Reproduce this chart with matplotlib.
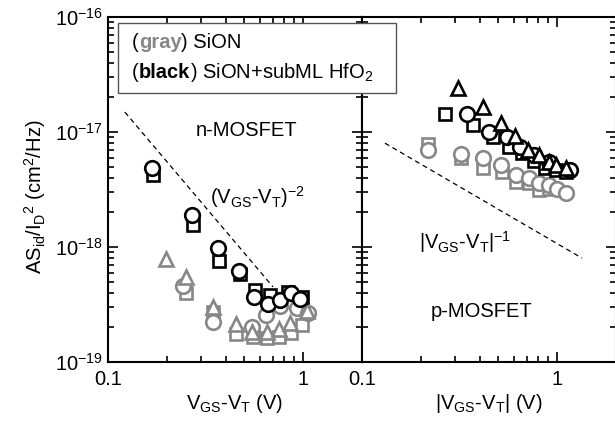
import matplotlib
matplotlib.use("Agg")
import matplotlib.pyplot as plt
from matplotlib.ticker import NullFormatter, FixedLocator, FixedFormatter
from matplotlib.patches import Rectangle

plt.rcParams["font.family"] = ["Liberation Sans", "DejaVu Sans"]
plt.rcParams["mathtext.fontset"] = "custom"
plt.rcParams["mathtext.rm"] = "Liberation Sans"
plt.rcParams["mathtext.it"] = "Liberation Sans"
plt.rcParams["mathtext.bf"] = "Liberation Sans:bold"
plt.rcParams["mathtext.default"] = "regular"

GRAY = "#878787"
BLACK = "#000000"
FS = 14.5

# ---------------- n-MOSFET (left panel) ----------------
# black: SiON + subML HfO2
n_blk_circ_x = [0.168, 0.270, 0.367, 0.470, 0.561, 0.661, 0.762, 0.868, 0.965]
n_blk_circ_y = [4.86e-18, 1.90e-18, 9.8e-19, 6.18e-19, 3.68e-19, 3.19e-19, 3.46e-19, 3.98e-19, 3.53e-19]
n_blk_sq_x = [0.170, 0.273, 0.371, 0.475, 0.567, 0.677, 0.838, 0.988]
n_blk_sq_y = [4.23e-18, 1.55e-18, 7.55e-19, 5.82e-19, 4.23e-19, 3.83e-19, 4.06e-19, 3.68e-19]
# gray: SiON
n_gry_tri_x = [0.198, 0.251, 0.345, 0.453, 0.548, 0.654, 0.753, 0.858, 1.048]
n_gry_tri_y = [7.86e-19, 5.48e-19, 3.01e-19, 2.14e-19, 1.82e-19, 1.82e-19, 1.94e-19, 2.18e-19, 2.78e-19]
n_gry_sq_x = [0.251, 0.345, 0.453, 0.554, 0.654, 0.753, 0.868, 0.988]
n_gry_sq_y = [3.98e-19, 2.72e-19, 1.75e-19, 1.65e-19, 1.62e-19, 1.65e-19, 1.79e-19, 2.10e-19]
n_gry_circ_x = [0.242, 0.345, 0.548, 0.646, 0.762, 0.932, 1.061]
n_gry_circ_y = [4.58e-19, 2.23e-19, 2.01e-19, 2.56e-19, 3.07e-19, 2.95e-19, 2.67e-19]
# guide line ~ (VGS-VT)^-2
n_guide_x = [0.122, 0.70]
n_guide_y = [1.49e-17, 4.5e-19]

# ---------------- p-MOSFET (right panel) ----------------
p_blk_tri_x = [0.311, 0.415, 0.513, 0.609, 0.706, 0.804, 0.91, 0.99, 1.11]
p_blk_tri_y = [2.41e-17, 1.65e-17, 1.20e-17, 9.2e-18, 7.0e-18, 6.3e-18, 5.48e-18, 5.16e-18, 4.86e-18]
p_blk_sq_x = [0.265, 0.369, 0.470, 0.565, 0.661, 0.763, 0.863, 0.99, 1.11]
p_blk_sq_y = [1.43e-17, 1.15e-17, 9.05e-18, 7.41e-18, 6.57e-18, 5.6e-18, 4.86e-18, 4.67e-18, 4.49e-18]
p_blk_circ_x = [0.346, 0.448, 0.551, 0.646, 0.763, 0.91, 1.166]
p_blk_circ_y = [1.43e-17, 1.0e-17, 9.05e-18, 7.41e-18, 6.31e-18, 5.48e-18, 4.67e-18]
p_gry_circ_x = [0.218, 0.322, 0.415, 0.513, 0.616, 0.718, 0.804, 0.91, 1.0, 1.11]
p_gry_circ_y = [6.97e-18, 6.44e-18, 5.94e-18, 5.16e-18, 4.23e-18, 3.98e-18, 3.60e-18, 3.46e-18, 3.19e-18, 2.95e-18]
p_gry_sq_x = [0.218, 0.322, 0.415, 0.522, 0.616, 0.718, 0.804, 0.91]
p_gry_sq_y = [7.86e-18, 5.94e-18, 4.86e-18, 4.49e-18, 3.68e-18, 3.60e-18, 3.13e-18, 3.19e-18]
# guide line ~ |VGS-VT|^-1
p_guide_x = [0.131, 1.34]
p_guide_y = [8.0e-18, 8.0e-19]

x_ticks = [0.1, 1]
x_tick_labels = ["0.1", "1"]
y_ticks = [1e-19, 1e-18, 1e-17, 1e-16]
y_tick_labels = [r"$10^{-19}$", r"$10^{-18}$", r"$10^{-17}$", r"$10^{-16}$"]
x_minor = [m * d for d in (0.1, 1.0) for m in range(2, 10) if m * d < 2.0]
y_minor = [m * d for d in (1e-19, 1e-18, 1e-17) for m in range(2, 10)]

fig = plt.figure(figsize=(6.15, 4.29), dpi=100)
W, H = 615.0, 429.0
axL = fig.add_axes([108 / W, 1 - 362 / H, 254 / W, 345 / H])
axR = fig.add_axes([362 / W, 1 - 362 / H, 254 / W, 345 / H])

for ax in (axL, axR):
    ax.set_xscale("log")
    ax.set_yscale("log")
    ax.set_xlim(0.1, 2.0)
    ax.set_ylim(1e-19, 1e-16)
    ax.xaxis.set_major_locator(FixedLocator(x_ticks))
    ax.xaxis.set_major_formatter(FixedFormatter(x_tick_labels))
    ax.xaxis.set_minor_locator(FixedLocator(x_minor))
    ax.xaxis.set_minor_formatter(NullFormatter())
    ax.yaxis.set_major_locator(FixedLocator(y_ticks))
    ax.yaxis.set_major_formatter(FixedFormatter(y_tick_labels))
    ax.yaxis.set_minor_locator(FixedLocator(y_minor))
    ax.yaxis.set_minor_formatter(NullFormatter())
    ax.tick_params(which="both", direction="in", top=True, right=True,
                   labelsize=FS, width=1.2)
    ax.tick_params(which="major", length=7)
    ax.tick_params(which="minor", length=4)
    ax.tick_params(axis="x", pad=6)
    ax.tick_params(axis="y", pad=4)
    for s in ax.spines.values():
        s.set_linewidth(1.5)

axR.tick_params(axis="y", labelleft=False)


def pts(ax, x, y, marker, color, ms):
    ax.plot(x, y, ls="none", marker=marker, ms=ms, mfc="white", mec=color, mew=1.9)


# left panel
pts(axL, n_gry_sq_x, n_gry_sq_y, "s", GRAY, 9)
pts(axL, n_gry_circ_x, n_gry_circ_y, "o", GRAY, 10.5)
pts(axL, n_gry_tri_x, n_gry_tri_y, "^", GRAY, 10.5)
pts(axL, n_blk_sq_x, n_blk_sq_y, "s", BLACK, 9)
pts(axL, n_blk_circ_x, n_blk_circ_y, "o", BLACK, 10.5)
axL.plot(n_guide_x, n_guide_y, ls=(0, (4, 3)), color="black", lw=0.9)

# right panel
pts(axR, p_gry_sq_x, p_gry_sq_y, "s", GRAY, 9)
pts(axR, p_gry_circ_x, p_gry_circ_y, "o", GRAY, 10.5)
pts(axR, p_blk_sq_x, p_blk_sq_y, "s", BLACK, 9)
pts(axR, p_blk_circ_x, p_blk_circ_y, "o", BLACK, 10.5)
pts(axR, p_blk_tri_x, p_blk_tri_y, "^", BLACK, 10.5)
axR.plot(p_guide_x, p_guide_y, ls=(0, (4, 3)), color="black", lw=0.9)

# annotations
axL.text(0.547, 0.672, "n-MOSFET", transform=axL.transAxes, ha="center", va="center", fontsize=FS)
axL.text(0.587, 0.478, r"(V$_{GS}$-V$_T$)$^{-2}$", transform=axL.transAxes,
         ha="center", va="center", fontsize=FS)
axR.text(0.405, 0.348, r"|V$_{GS}$-V$_T$|$^{-1}$", transform=axR.transAxes,
         ha="center", va="center", fontsize=FS)
axR.text(0.472, 0.145, "p-MOSFET", transform=axR.transAxes, ha="center", va="center", fontsize=FS)

axL.set_xlabel(r"V$_{GS}$-V$_T$ (V)", fontsize=FS, labelpad=2)
axR.set_xlabel(r"|V$_{GS}$-V$_T$| (V)", fontsize=FS, labelpad=2)
axL.set_ylabel(r"AS$_{id}$/I$_D$$^2$ (cm$^2$/Hz)", fontsize=FS)
axL.yaxis.set_label_coords(-0.235, 0.48)

# key box spanning both panels
box = Rectangle((118 / W, 1 - 93 / H), (396 - 118) / W, 70 / H, transform=fig.transFigure,
                facecolor="white", edgecolor="#555555", lw=1.0, zorder=10)
fig.add_artist(box)

fig.canvas.draw()
renderer = fig.canvas.get_renderer()


def rich_line(x, y, parts):
    # lay out consecutive runs of text on one baseline
    for txt, col, wt in parts:
        t = fig.text(x, y, txt, color=col, fontweight=wt, fontsize=FS,
                     va="baseline", ha="left", zorder=11)
        bb = t.get_window_extent(renderer)
        x = bb.x1 / fig.bbox.width


rich_line(132 / W, 1 - 48.5 / H, [("(", BLACK, "normal"), ("gray", GRAY, "bold"),
                                    (") SiON", BLACK, "normal")])
rich_line(132 / W, 1 - 77.5 / H, [("(", BLACK, "normal"), ("black", BLACK, "bold"),
                                    (r") SiON+subML HfO$_2$", BLACK, "normal")])

fig.savefig("out.png", dpi=100)
